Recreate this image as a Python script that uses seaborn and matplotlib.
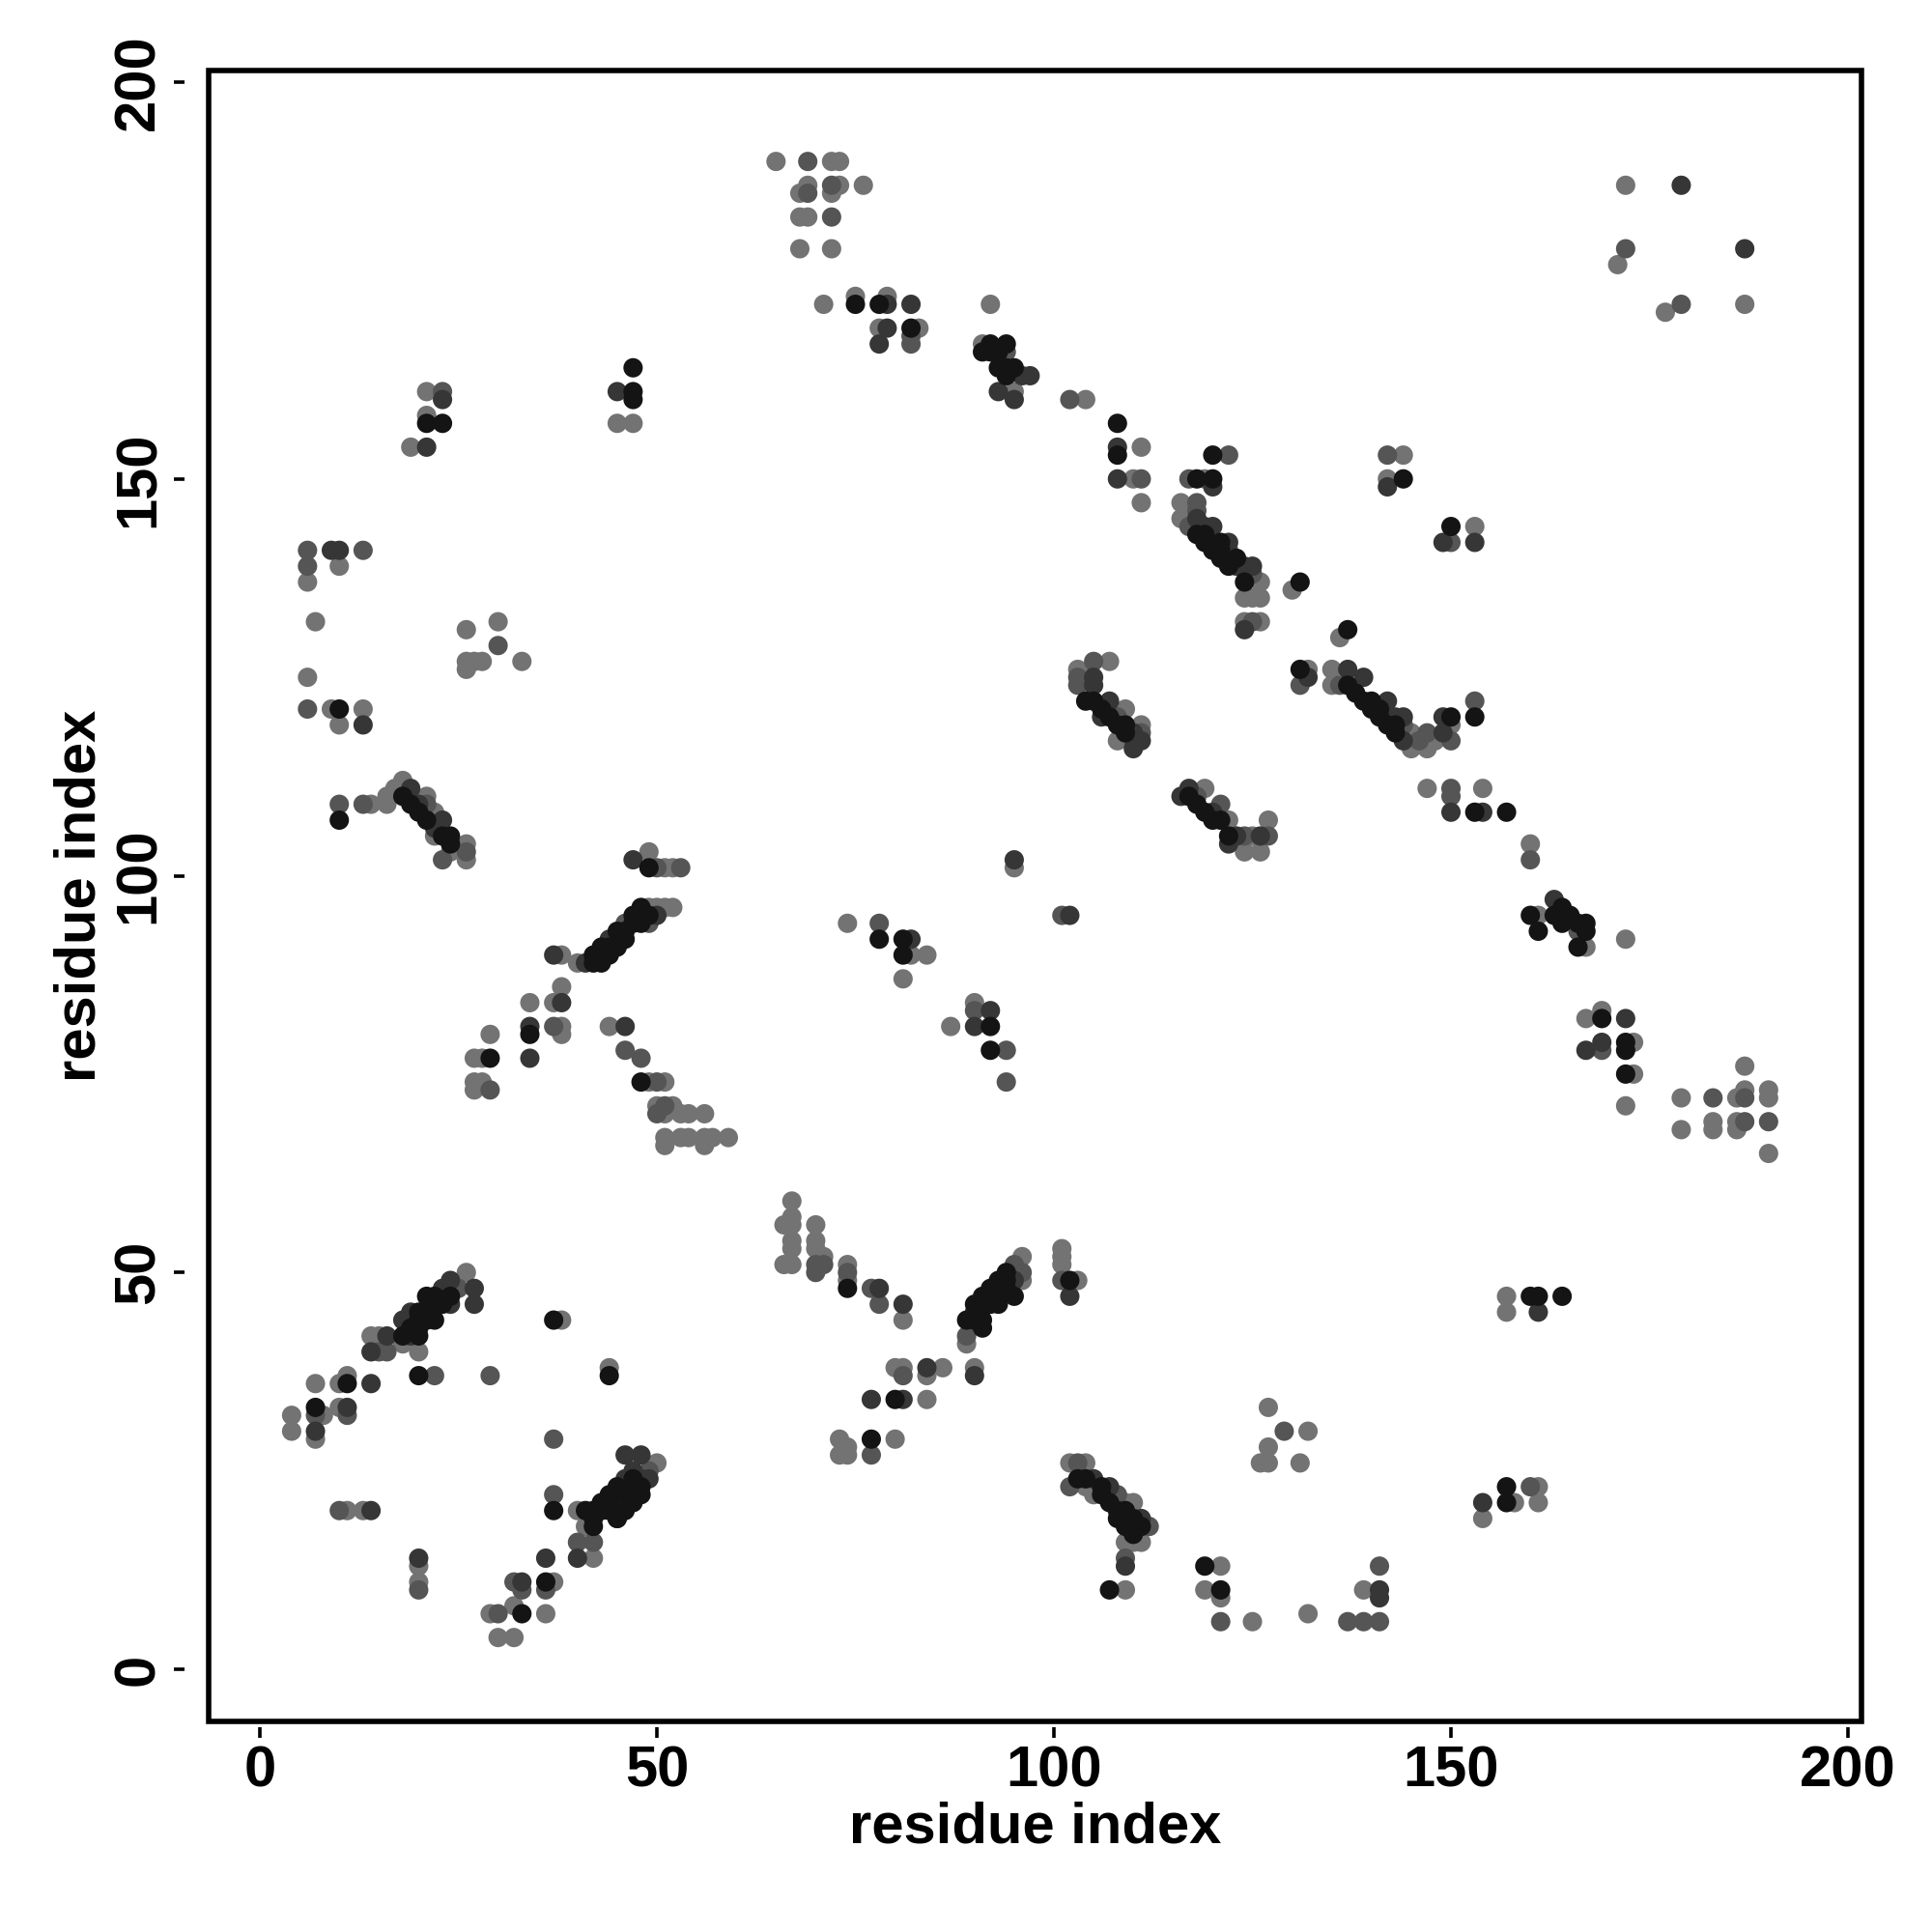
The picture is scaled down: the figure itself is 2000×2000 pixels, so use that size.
import matplotlib
matplotlib.use('Agg')
import matplotlib.pyplot as plt
from matplotlib.patches import Rectangle
import seaborn as sns
import pandas as pd

# contact pairs (residue i, residue j), grouped by shade of the marker
contacts_black = [
    (21, 157), (23, 157), (10, 121), (10, 107), (18, 110), (19, 109), (20, 108), (21, 107), (23, 105), (24, 105), (24, 104),
    (75, 172), (78, 172), (82, 169), (92, 167), (94, 167), (91, 166), (93, 166), (93, 164), (95, 164), (94, 163), (92, 166),
    (94, 164), (47, 164), (47, 161), (47, 160),
    (108, 157), (108, 153), (120, 153), (118, 150), (120, 150), (118, 143), (119, 142), (120, 141), (121, 140), (122, 139),
    (119, 143), (121, 142), (121, 141), (123, 140), (124, 137), (131, 137), (137, 131), (144, 150), (150, 144),
    (34, 80), (29, 77), (42, 89), (43, 89), (43, 91), (44, 91), (44, 90), (45, 93), (45, 91), (46, 93), (46, 92), (47, 95),
    (47, 94), (48, 94), (49, 95), (48, 96), (42, 90),
    (49, 101), (48, 74), (78, 92), (81, 92), (81, 90), (92, 81), (92, 78),
    (104, 122), (105, 122), (107, 120), (108, 119), (109, 118), (106, 121), (109, 119), (131, 126), (137, 124), (139, 122),
    (140, 121), (141, 120), (143, 118), (150, 120), (138, 123), (140, 122), (141, 121), (142, 119), (143, 119),
    (118, 109), (119, 108), (120, 107), (122, 105), (117, 110), (121, 107),
    (153, 120), (153, 108), (157, 108), (160, 95), (161, 93), (164, 96), (164, 94), (166, 94), (167, 94), (166, 91), (167, 93),
    (163, 95), (165, 95), (169, 82), (172, 79), (172, 78), (172, 75),
    (24, 47), (22, 47), (21, 47), (21, 45), (20, 45), (19, 43), (18, 42), (20, 42), (21, 44), (22, 44), (23, 46), (20, 44),
    (22, 46), (20, 43), (20, 37), (11, 36), (7, 33), (37, 44), (44, 37), (37, 20),
    (41, 20), (42, 18), (43, 20), (44, 22), (45, 19), (42, 19), (43, 21), (44, 21), (45, 23), (46, 22), (47, 24), (44, 20),
    (42, 20), (36, 11), (33, 7),
    (74, 48), (80, 34), (77, 29), (94, 50), (95, 47), (93, 49), (92, 48), (92, 46), (93, 46), (91, 47), (90, 46), (90, 44),
    (91, 44), (89, 44), (91, 43), (93, 47), (94, 48), (94, 49), (92, 47), (91, 46),
    (48, 22), (47, 21), (46, 20), (45, 19), (48, 23),
    (102, 49), (103, 24), (104, 24), (107, 21), (108, 19), (109, 18), (110, 19), (110, 17), (106, 22), (106, 23), (109, 20),
    (108, 20), (111, 18), (107, 10), (119, 13), (121, 10),
    (160, 47), (161, 47), (164, 47), (157, 23), (157, 21),
]

contacts_dark = [
    (23, 160), (21, 154), (9, 141), (10, 141), (13, 119), (19, 111), (23, 107), (20, 109), (22, 106),
    (79, 172), (82, 172), (79, 169), (78, 167), (96, 163), (97, 163), (93, 161), (95, 160), (45, 161),
    (108, 154), (108, 150), (120, 149), (120, 144), (122, 142), (118, 145), (119, 144), (123, 139), (124, 139), (125, 139),
    (124, 131), (142, 149), (149, 142), (153, 142),
    (179, 187), (187, 179),
    (37, 90), (38, 84), (34, 81), (34, 77), (46, 81), (47, 102), (41, 89), (50, 95), (44, 92),
    (92, 83), (90, 81), (82, 92), (95, 102),
    (105, 125), (105, 124), (107, 122), (111, 117), (110, 116), (110, 118), (106, 120), (137, 126), (139, 125), (142, 122),
    (143, 120), (144, 120), (149, 120), (144, 117), (132, 125),
    (150, 108), (116, 110), (117, 111), (120, 108), (122, 104), (126, 105), (123, 105), (102, 95),
    (149, 118), (154, 108), (163, 97), (172, 82), (167, 78), (169, 79),
    (27, 48), (27, 46), (24, 49), (23, 48), (19, 45), (18, 44), (24, 46), (23, 47), (19, 42), (16, 42), (14, 40), (14, 36),
    (11, 33), (7, 30), (14, 20),
    (46, 27), (46, 24), (47, 25), (45, 22), (48, 24), (40, 14), (36, 14), (33, 11), (20, 14),
    (78, 48), (81, 46), (84, 38), (90, 37), (77, 34), (81, 34), (95, 49), (90, 45), (48, 27), (49, 24),
    (102, 47), (105, 24), (107, 23), (111, 19), (109, 13), (141, 10), (141, 9),
    (161, 45), (154, 21),
]

contacts_mid = [
    (23, 161), (6, 141), (6, 139), (13, 141), (30, 129), (6, 121), (10, 109), (13, 109), (23, 102), (26, 103), (21, 109),
    (69, 190), (69, 186), (72, 187), (72, 183), (82, 168), (82, 167), (94, 166),
    (102, 160), (111, 150), (122, 153), (117, 150), (118, 147), (118, 146), (117, 144), (122, 141), (125, 138), (125, 132),
    (142, 153), (150, 142),
    (172, 179), (179, 172),
    (37, 81), (46, 78), (29, 73), (48, 95), (49, 94), (46, 94),
    (50, 101), (53, 101), (48, 77), (50, 74), (51, 71), (50, 70), (78, 94), (90, 83), (94, 78), (94, 74),
    (105, 127), (103, 125), (103, 124), (110, 117), (108, 120), (111, 118), (131, 124), (144, 119), (147, 118), (150, 117),
    (146, 117), (136, 124),
    (150, 111), (121, 109), (118, 110), (124, 105), (127, 105), (101, 95),
    (153, 122), (150, 110), (160, 102), (166, 93), (169, 78), (183, 72), (187, 72), (187, 69), (190, 69),
    (25, 48), (15, 40), (16, 40), (22, 37), (29, 37), (7, 32), (11, 32), (37, 29), (37, 22), (10, 20), (40, 16), (42, 16),
    (36, 10), (32, 11), (33, 10), (30, 7), (20, 10),
    (70, 51), (71, 51), (70, 50), (74, 50), (77, 48), (78, 46), (81, 37), (77, 27), (96, 50), (95, 51), (89, 42), (49, 25),
    (101, 49), (129, 30), (103, 26), (102, 23), (108, 22), (112, 18), (109, 14), (141, 13), (121, 6), (137, 6), (139, 6),
    (141, 6), (160, 23),
]

contacts_light = [
    (21, 161), (21, 158), (19, 154), (6, 137), (10, 139), (7, 132), (26, 131), (30, 132), (26, 127), (27, 127), (28, 127),
    (26, 126), (33, 127), (6, 125), (9, 121), (13, 121), (10, 119), (14, 109), (16, 110), (16, 109), (18, 112), (21, 110),
    (22, 108), (22, 105), (24, 103), (26, 104), (26, 102), (17, 111),
    (65, 190), (72, 190), (73, 190), (69, 187), (68, 186), (73, 187), (72, 186), (76, 187), (68, 183), (69, 183), (68, 179),
    (72, 179), (71, 172), (75, 173), (79, 173), (78, 169), (83, 169), (92, 172), (91, 167), (95, 161), (47, 157), (45, 157),
    (104, 160), (111, 154), (110, 150), (111, 147), (119, 150), (116, 147), (116, 145), (117, 146), (126, 137), (124, 135),
    (125, 135), (126, 135), (124, 132), (126, 132), (130, 136), (136, 130), (144, 153), (142, 150), (153, 144),
    (172, 187), (171, 177), (177, 171), (187, 172),
    (34, 84), (38, 90), (38, 86), (37, 84), (38, 81), (38, 80), (44, 81), (29, 80), (27, 77), (28, 77), (27, 74), (28, 74),
    (27, 73), (40, 89), (50, 96), (49, 96), (51, 96), (52, 96),
    (49, 103), (51, 101), (52, 101), (49, 74), (51, 74), (50, 71), (52, 71), (51, 70), (53, 70), (54, 70), (56, 70),
    (51, 67), (53, 67), (54, 67), (56, 67), (57, 67), (59, 67), (51, 66), (56, 66),
    (74, 94), (82, 90), (84, 90), (81, 87), (90, 84), (87, 81), (95, 101),
    (103, 126), (107, 127), (104, 125), (109, 121), (111, 119), (108, 117), (132, 126), (135, 126), (135, 124), (145, 118),
    (145, 116), (147, 116), (148, 117),
    (147, 111), (119, 111), (122, 107), (125, 105), (124, 103), (126, 103), (127, 107),
    (150, 119), (154, 111), (160, 104), (161, 95), (167, 91), (172, 92), (167, 82), (169, 83), (173, 79), (173, 75),
    (172, 71), (179, 72), (179, 68), (183, 69), (183, 68), (186, 72), (187, 73), (187, 76), (186, 69), (186, 68), (190, 73),
    (190, 72), (190, 65),
    (26, 50), (14, 42), (15, 42), (18, 41), (20, 40), (7, 36), (10, 36), (11, 37), (8, 32), (10, 33), (4, 32), (4, 30),
    (7, 29), (38, 44), (44, 38), (11, 20), (13, 20), (40, 20), (41, 18), (42, 14), (37, 11), (36, 7), (32, 8), (29, 7),
    (30, 4), (32, 4), (20, 13), (20, 11),
    (67, 59), (67, 57), (66, 56), (67, 56), (67, 54), (67, 53), (66, 51), (67, 51), (70, 56), (70, 54), (70, 53), (71, 52),
    (74, 51), (74, 49), (81, 44), (80, 38), (81, 38), (84, 37), (86, 38), (90, 38), (84, 34), (73, 29), (73, 27), (74, 28),
    (74, 27), (80, 29), (96, 52), (96, 49), (89, 41), (50, 26),
    (101, 53), (101, 52), (101, 51), (103, 49), (127, 33), (132, 30), (127, 28), (126, 26), (127, 26), (131, 26), (102, 26),
    (104, 26), (105, 22), (109, 21), (110, 21), (104, 23), (109, 16), (110, 16), (111, 16), (109, 10), (121, 13), (119, 10),
    (121, 9), (125, 6), (132, 7), (139, 10),
    (157, 47), (157, 45), (158, 21), (161, 23), (161, 21), (154, 19),
]

shade_colors = {'light': '#737373', 'mid': '#555555', 'dark': '#363636', 'black': '#141414'}
ticks = [0, 50, 100, 150, 200]


def build_frame():
    rows = []
    for name, pts in [('light', contacts_light), ('mid', contacts_mid),
                      ('dark', contacts_dark), ('black', contacts_black)]:
        for i, j in pts:
            rows.append([i, j, name])
    return pd.DataFrame(rows, columns=['i', 'j', 'shade'])


def main():
    sns.set_style('white')
    plt.rcParams['font.family'] = ['Liberation Sans', 'DejaVu Sans']
    plt.rcParams['font.weight'] = 'bold'
    plt.rcParams['text.color'] = 'black'
    plt.rcParams['axes.labelcolor'] = 'black'
    plt.rcParams['xtick.color'] = 'black'
    plt.rcParams['ytick.color'] = 'black'

    fig = plt.figure(figsize=(10, 10), dpi=200)
    ax = fig.add_axes([0.108, 0.109, 0.8555, 0.8545])

    df = build_frame()
    sns.scatterplot(data=df, x='i', y='j', hue='shade', palette=shade_colors,
                    s=52, linewidth=0, legend=False, ax=ax)

    ax.set_xlim(-6.45, 201.7)
    ax.set_ylim(-6.57, 201.46)

    # box around the plot region
    for s in ax.spines.values():
        s.set_visible(False)
    ax.add_patch(Rectangle((0, 0), 1, 1, transform=ax.transAxes, fill=False,
                           lw=2.0, edgecolor='black', zorder=5, clip_on=False))

    # R-style axes, pushed away from the box
    for side in ['left', 'bottom']:
        ax.spines[side].set_visible(True)
        ax.spines[side].set_linewidth(0)
    ax.spines['left'].set_position(('outward', 9))
    ax.spines['bottom'].set_position(('outward', 2))

    ax.set_xticks(ticks)
    ax.set_yticks(ticks)
    ax.tick_params(axis='both', direction='out', length=4, width=1.3, colors='black',
                   labelsize=21.5, pad=3)
    ax.tick_params(left=True, bottom=True)
    plt.setp(ax.get_yticklabels(), rotation=90, va='center', fontweight='bold')
    plt.setp(ax.get_xticklabels(), fontweight='bold')

    ax.set_xlabel('residue index', fontsize=21.5, fontweight='bold')
    ax.set_ylabel('residue index', fontsize=21.5, fontweight='bold')
    ax.xaxis.set_label_coords(0.5, -0.0644)
    ax.yaxis.set_label_coords(-0.078, 0.5)
    ax.xaxis.label.set_va('center')
    ax.yaxis.label.set_va('center')

    fig.savefig('out.png', dpi=200, facecolor='white')


if __name__ == '__main__':
    main()
